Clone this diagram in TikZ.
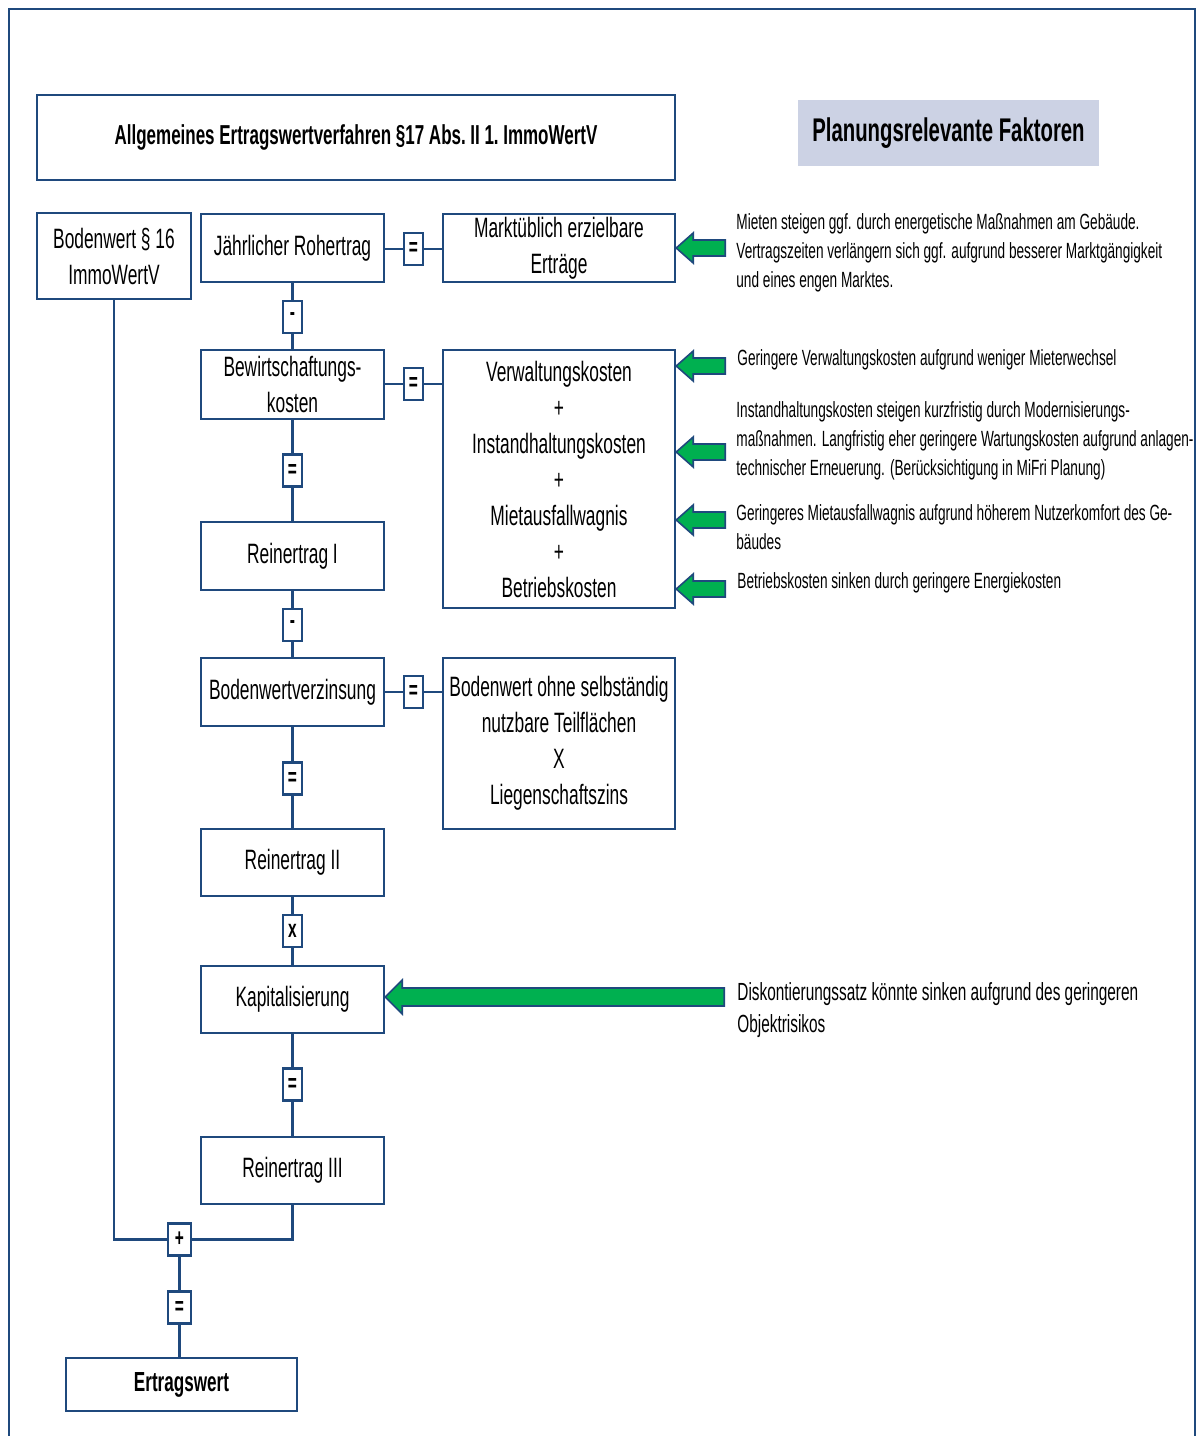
\documentclass[tikz,border=0pt]{standalone}
\usepackage{fontspec}
\setmainfont{Liberation Sans}[FakeStretch=0.62]
\usetikzlibrary{calc}
\definecolor{frame}{HTML}{1F497D}
\definecolor{arrowgreen}{HTML}{00B050}
\definecolor{lavender}{RGB}{204,210,228}
\newcommand\boxfont{\fontsize{14}{18}\selectfont}
\newcommand\notefont{\fontsize{11}{14.5}\selectfont}
% fat green arrow: tip, shaft length, head half height, shaft half height
\newcommand\fatarrow[4]{%
  \draw[garrow] (#1) -- ++(17,-#3) -- ++(0,#3-#4) -- ++(#2,0) -- ++(0,2*#4)
    -- ++(-#2,0) -- ++(0,#3-#4) -- cycle;}
\begin{document}
\begin{tikzpicture}[x=0.5pt,y=-0.5pt,
  box/.style={draw=frame,line width=1.2pt,fill=white,align=center,inner sep=0pt,
    font=\boxfont,minimum width=91.5pt,minimum height=34pt},
  wbox/.style={box,minimum width=116pt},
  op/.style={draw=frame,line width=1.1pt,fill=white,inner sep=0pt,
    minimum width=9.5pt,minimum height=16pt,font=\fontsize{12.5}{13}\selectfont\bfseries},
  link/.style={draw=frame,line width=1.2pt},
  note/.style={anchor=west,align=left,inner sep=0pt,font=\notefont},
  garrow/.style={draw=frame,line width=0.8pt,fill=arrowgreen,line join=miter}]
\useasboundingbox (0,0) rectangle (1197,1436);
\fill[white] (0,0) rectangle (1197,1436);
% outer frame
\draw[frame,line width=1.2pt] (9,1436) -- (9,9) -- (1195,9) -- (1195,1436);

% headings
\node[box,minimum width=319pt,minimum height=42.5pt,font=\fontsize{13.7}{16}\selectfont\bfseries]
  (title) at (356,137.5) {Allgemeines Ertragswertverfahren §17 Abs.\,II 1.\,ImmoWertV};
\node[fill=lavender,minimum width=150.5pt,minimum height=33pt,inner sep=0pt,
  font=\fontsize{16.4}{18}\selectfont\bfseries] (plan) at (948.5,133) {Planungsrelevante Faktoren};

% left column
\node[box,minimum width=77pt,minimum height=43pt] (bw) at (114,256) {Bodenwert § 16\\ImmoWertV};
\node[box] (jr) at (292.5,248) {Jährlicher Rohertrag};
\node[box,minimum height=34.5pt] (bk) at (292.5,384.5) {Bewirtschaftungs-\\kosten};
\node[box] (r1) at (292.5,556) {Reinertrag I};
\node[box] (bv) at (292.5,692) {Bodenwertverzinsung};
\node[box,minimum height=33.5pt] (r2) at (292.5,862.5) {Reinertrag II};
\node[box,minimum height=33.5pt] (kap) at (292.5,999.5) {Kapitalisierung};
\node[box,minimum height=33.5pt] (r3) at (292.5,1170.5) {Reinertrag III};
\node[box,minimum width=115.5pt,minimum height=26.5pt,font=\fontsize{13.8}{15}\selectfont\bfseries]
  (ew) at (181.5,1384.5) {Ertragswert};

% operators
\node[op] (o1) at (292.5,317) {-};
\node[op] (o2) at (292.5,470.5) {=};
\node[op] (o3) at (292.5,625) {-};
\node[op] (o4) at (292.5,778.5) {=};
\node[op] (o5) at (292.5,931) {x};
\node[op] (o6) at (292.5,1084.5) {=};
\node[op,minimum width=11.5pt] (o7) at (179.5,1239.5) {+};
\node[op,minimum width=11.5pt] (o8) at (179.5,1307.5) {=};
\node[op] (q1) at (413.5,249) {=};
\node[op] (q2) at (413.5,384) {=};
\node[op] (q3) at (413.5,692) {=};

% right-hand boxes
\node[wbox] (mt) at (559,248) {Marktüblich erzielbare\\Erträge};
\node[wbox,minimum height=129pt] (kost) at (559,479)
  {Verwaltungskosten\\+\\Instandhaltungskosten\\+\\Mietausfallwagnis\\+\\Betriebskosten};
\node[wbox,minimum height=85.5pt] (bo) at (559,743.5)
  {Bodenwert ohne selbständig\\nutzbare Teilflächen\\X\\Liegenschaftszins};

% connectors
\draw[link] (jr.south) -- (o1) -- (bk.north);
\draw[link] (bk.south) -- (o2) -- (r1.north);
\draw[link] (r1.south) -- (o3) -- (bv.north);
\draw[link] (bv.south) -- (o4) -- (r2.north);
\draw[link] (r2.south) -- (o5) -- (kap.north);
\draw[link] (kap.south) -- (o6) -- (r3.north);
\draw[link] (r3.south) |- (o7.east);
\draw[link] (bw.south) |- (o7.west);
\draw[link] (o7.south) -- (o8) -- (o8 |- ew.north);
\draw[link] (jr.east |- q1) -- (q1) -- (mt.west |- q1);
\draw[link] (bk.east |- q2) -- (q2) -- (kost.west |- q2);
\draw[link] (bv.east |- q3) -- (q3) -- (bo.west |- q3);

% planning factors
\node[note] (n1) at (736,253) {Mieten steigen ggf. durch energetische Maßnahmen am Gebäude.\\
  Vertragszeiten verlängern sich ggf. aufgrund besserer Marktgängigkeit\\und eines engen Marktes.};
\node[note] (n2) at (737,360) {Geringere Verwaltungskosten aufgrund weniger Mieterwechsel};
\node[note] (n3) at (736,440.5) {Instandhaltungskosten steigen kurzfristig durch Modernisierungs-\\
  maßnahmen. Langfristig eher geringere Wartungskosten aufgrund anlagen-\\
  technischer Erneuerung. (Berücksichtigung in MiFri Planung)};
\node[note] (n4) at (736,527.5) {Geringeres Mietausfallwagnis aufgrund höherem Nutzerkomfort des Ge-\\bäudes};
\node[note] (n5) at (737,583) {Betriebskosten sinken durch geringere Energiekosten};
\node[note,font=\fontsize{12.4}{16}\selectfont] (n6) at (737,1010)
  {Diskontierungssatz könnte sinken aufgrund des geringeren\\Objektrisikos};

% arrows pointing at the affected items
\fatarrow{mt.east}{32}{15}{8}
\fatarrow{kost.east |- 0,366}{32}{15}{8}
\fatarrow{kost.east |- 0,452}{32}{15}{8}
\fatarrow{kost.east |- 0,520}{32}{15}{8}
\fatarrow{kost.east |- 0,589}{32}{15}{8}
\fatarrow{kap.east |- 0,997}{322}{17}{9}
\end{tikzpicture}
\end{document}
